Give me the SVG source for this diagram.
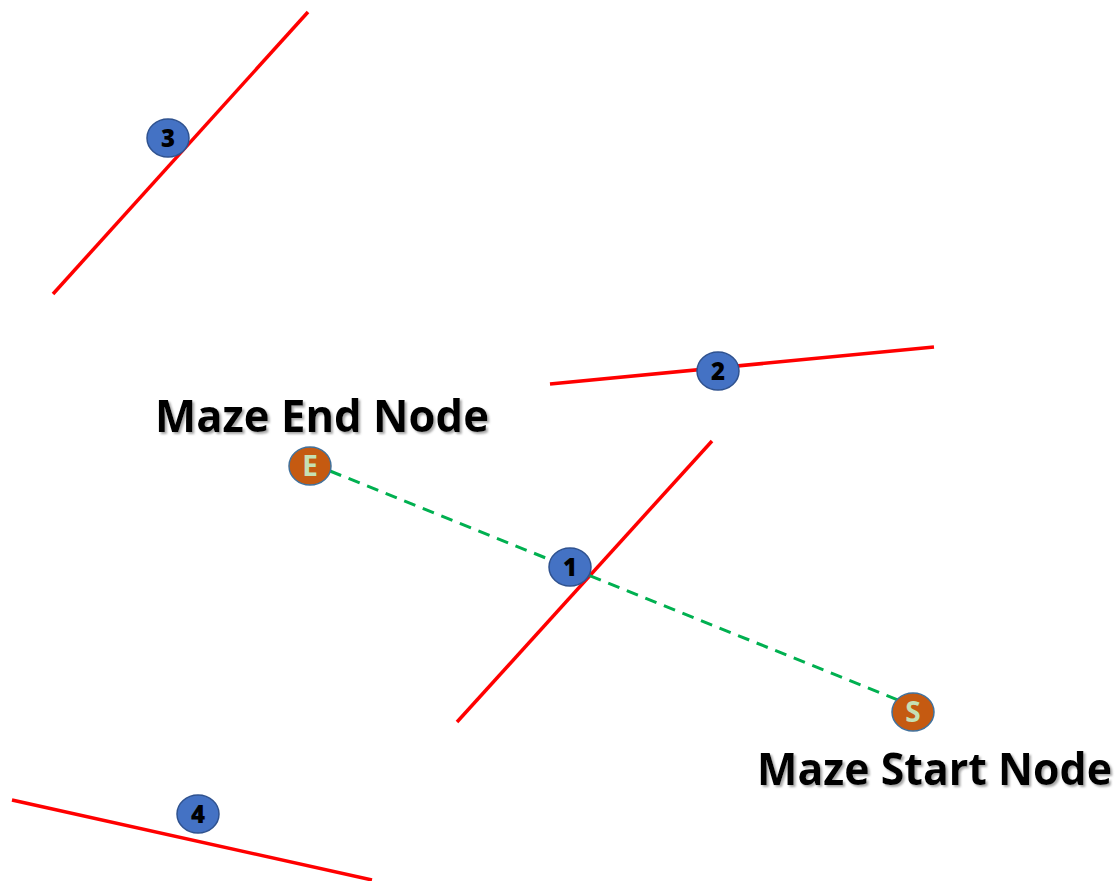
<svg xmlns="http://www.w3.org/2000/svg" width="1119" height="881" viewBox="0 0 1119 881">
<defs>
<filter id="shadow" x="-5%" y="-20%" width="110%" height="140%"><feDropShadow dx="2" dy="2" stdDeviation="1.2" flood-color="#808080" flood-opacity="0.7"/></filter>
</defs>
<style>
.wall{stroke:#FF0000;stroke-width:3.5;fill:none}
.num{fill:#4472C4;stroke:#2F528F;stroke-width:1.5}
.numt{font-family:"Open Sans","Liberation Sans",sans-serif;font-weight:800;font-size:24px;fill:#000;text-anchor:middle}
.ep{fill:#C55A11;stroke:#41719C;stroke-width:1.5}
.ept{font-family:"Open Sans","Liberation Sans",sans-serif;font-weight:bold;font-size:28px;fill:#C5E0B4;text-anchor:middle}
.lbl{font-family:"Open Sans","Liberation Sans",sans-serif;font-weight:bold;font-size:44px;fill:#000}
</style>
<rect width="1119" height="881" fill="#fff"/>
<g id="connectors">
<line x1="53" y1="294" x2="308" y2="12" class="wall"/>
<line x1="550" y1="384" x2="934" y2="347" class="wall"/>
<line x1="457" y1="722" x2="712" y2="441" class="wall"/>
<line x1="12" y1="800" x2="372" y2="880" class="wall"/>
<line x1="330" y1="471" x2="898" y2="700" stroke="#00B050" stroke-width="3" stroke-dasharray="12,8"/>
</g>
<g id="node3"><ellipse cx="168" cy="138" rx="21" ry="19" class="num"/><text x="168" y="146.5" class="numt">3</text></g>
<g id="node2"><ellipse cx="718" cy="371" rx="21" ry="19" class="num"/><text x="718" y="379.5" class="numt">2</text></g>
<g id="node1"><ellipse cx="570" cy="567" rx="21" ry="19" class="num"/><text x="570" y="575.5" class="numt">1</text></g>
<g id="node4"><ellipse cx="198" cy="814" rx="21" ry="19" class="num"/><text x="198" y="822.5" class="numt">4</text></g>
<g id="nodeE"><ellipse cx="310" cy="466" rx="21" ry="19" class="ep"/><text x="310" y="476" class="ept">E</text></g>
<g id="nodeS"><ellipse cx="913" cy="712" rx="21" ry="19" class="ep"/><text x="913" y="722" class="ept">S</text></g>
<g id="labelEnd"><text x="155" y="432" class="lbl" filter="url(#shadow)" textLength="334" lengthAdjust="spacingAndGlyphs">Maze End Node</text></g>
<g id="labelStart"><text x="757" y="785" class="lbl" filter="url(#shadow)" textLength="355" lengthAdjust="spacingAndGlyphs">Maze Start Node</text></g>
</svg>
